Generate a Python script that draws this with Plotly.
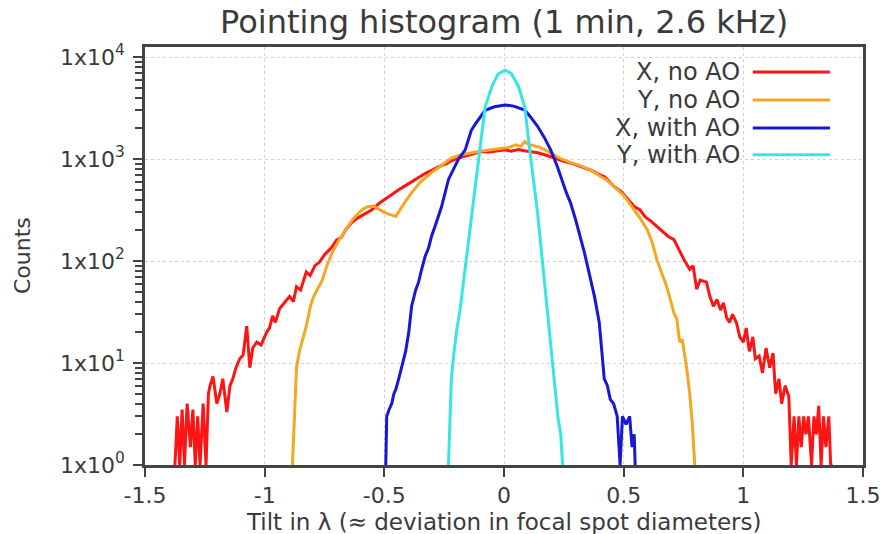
import plotly.graph_objects as go

# ---------------- data ----------------
series_names = ["X, no AO", "Y, no AO", "X, with AO", "Y, with AO"]
series_colors = ["#ff1414", "#f5a623", "#1717d6", "#36e6e6"]

x_noao_x = [-1.375, -1.365, -1.355, -1.345, -1.335, -1.324, -1.31, -1.30, -1.29, -1.28, -1.27, -1.257, -1.245,
            -1.235, -1.228, -1.216, -1.2, -1.187, -1.175, -1.158, -1.145, -1.133, -1.12, -1.104, -1.09, -1.075,
            -1.062, -1.05, -1.033, -1.015, -0.992, -0.98, -0.967, -0.955, -0.938, -0.92, -0.896, -0.88, -0.867,
            -0.85, -0.826, -0.81, -0.79, -0.772, -0.75, -0.735, -0.718, -0.70, -0.68, -0.66, -0.635, -0.61, -0.58,
            -0.552, -0.52, -0.5, -0.469, -0.44, -0.40, -0.37, -0.33, -0.30, -0.274, -0.24, -0.22, -0.19, -0.15,
            -0.12, -0.095, -0.06, -0.03, 0.004, 0.03, 0.06, 0.09, 0.12, 0.141, 0.17, 0.2, 0.224, 0.25, 0.278,
            0.31, 0.34, 0.361, 0.39, 0.42, 0.44, 0.46, 0.49, 0.52, 0.545, 0.568, 0.59, 0.615, 0.639, 0.66, 0.685,
            0.71, 0.73, 0.755, 0.776, 0.79, 0.805, 0.82, 0.846, 0.86, 0.875, 0.89, 0.905, 0.917, 0.93, 0.942,
            0.955, 0.971, 0.985, 1.0, 1.012, 1.025, 1.04, 1.05, 1.066, 1.08, 1.095, 1.11, 1.124, 1.135, 1.149,
            1.16, 1.175, 1.19, 1.2, 1.212, 1.222, 1.232, 1.242, 1.252, 1.262, 1.272, 1.285, 1.295, 1.305, 1.315,
            1.325, 1.335, 1.345, 1.357, 1.365, 1.373]
x_noao_y = [1, 3, 1, 3.5, 1, 4, 1.5, 3.5, 1, 3, 1, 4, 1,
            5, 6, 7.4, 4, 5, 7, 3.3, 6, 7, 9, 11, 12, 23,
            9, 14, 16, 15, 20, 22, 29, 25, 34, 38, 45, 40, 56,
            52, 78, 72, 90, 97, 115, 125, 138, 160, 170, 205, 240, 265, 290,
            318, 370, 400, 447, 500, 570, 630, 720, 780, 837, 900, 960, 1020, 1080,
            1130, 1180, 1170, 1200, 1230, 1190, 1240, 1200, 1180, 1150, 1100, 1040, 980, 950, 915,
            860, 810, 780, 720, 670, 600, 537, 480, 400, 340, 318, 270, 245, 218, 195, 175,
            162, 130, 100, 83, 90, 53, 65, 62, 45, 36, 42, 33, 39, 28, 25,
            30, 25, 18, 16, 22, 13, 18, 11, 11.7, 8, 14, 9, 12.5, 5, 7,
            4, 6, 4.7, 1, 3, 1, 3, 1.5, 3, 2, 3, 1, 3, 2, 3.8,
            1, 3, 1.5, 3, 1, 1]

y_noao_x = [-0.884, -0.876, -0.867, -0.855, -0.84, -0.826, -0.81, -0.80, -0.785, -0.76, -0.74, -0.718, -0.69,
            -0.66, -0.63, -0.593, -0.57, -0.545, -0.523, -0.50, -0.475, -0.452, -0.42, -0.386, -0.35, -0.303,
            -0.26, -0.22, -0.18, -0.14, -0.10, -0.054, -0.02, 0.02, 0.05, 0.07, 0.087, 0.1, 0.12, 0.15, 0.18, 0.21,
            0.24, 0.28, 0.32, 0.36, 0.40, 0.43, 0.46, 0.5, 0.52, 0.544, 0.57, 0.598, 0.62, 0.639, 0.66, 0.68,
            0.70, 0.71, 0.722, 0.734, 0.745, 0.763, 0.776, 0.787, 0.797]
y_noao_y = [1, 3.3, 9, 13, 17, 23, 35, 42, 50, 64, 90, 121, 160,
            204, 260, 318, 340, 345, 320, 300, 285, 274, 360, 468, 590, 735,
            870, 1020, 1100, 1150, 1190, 1230, 1260, 1300, 1380, 1330, 1480, 1400, 1360, 1300, 1200, 1100,
            1000, 920, 860, 780, 690, 620, 537, 440, 380, 318, 260, 204, 150, 103, 75, 56,
            38, 31, 27, 16, 17, 9, 5, 2.5, 1]

x_ao_x = [-0.494, -0.49, -0.48, -0.469, -0.46, -0.452, -0.44, -0.427, -0.411, -0.398, -0.386, -0.369, -0.357,
          -0.344, -0.33, -0.315, -0.303, -0.28, -0.261, -0.232, -0.203, -0.19, -0.162, -0.137, -0.12, -0.079,
          -0.04, 0.004, 0.04, 0.087, 0.11, 0.141, 0.17, 0.195, 0.224, 0.237, 0.26, 0.278, 0.3, 0.336, 0.36,
          0.378, 0.398, 0.41, 0.419, 0.432, 0.444, 0.458, 0.473, 0.485, 0.495, 0.51, 0.525, 0.535, 0.544, 0.548]
x_ao_y = [1, 3, 3.5, 4, 5, 5.5, 7, 9, 13, 20, 36, 52, 62,
          83, 110, 135, 174, 250, 340, 630, 850, 1000, 1230, 1900, 2200, 3000,
          3250, 3390, 3300, 3020, 2600, 2080, 1600, 1230, 830, 670, 470, 372, 250, 121, 70,
          45, 25, 12, 7, 6, 4.4, 4, 3, 1, 3, 2.5, 3, 1.5, 2, 1]

y_ao_x = [-0.232, -0.228, -0.22, -0.21, -0.199, -0.183, -0.17, -0.158, -0.14, -0.125, -0.116, -0.108, -0.079,
          -0.05, -0.025, 0.004, 0.03, 0.06, 0.087, 0.112, 0.125, 0.14, 0.16, 0.18, 0.2, 0.215, 0.225, 0.237, 0.245]
y_ao_y = [1, 2, 7, 12, 20, 34, 60, 102, 230, 460, 690, 1000, 3230,
          5200, 6800, 7440, 6900, 5200, 3230, 1000, 600, 300, 102, 35, 11, 5, 3, 2, 1]

y_tickvals = [1, 10, 100, 1000, 10000]
y_ticktext = ["1x10<sup>0</sup>", "1x10<sup>1</sup>", "1x10<sup>2</sup>", "1x10<sup>3</sup>", "1x10<sup>4</sup>"]
x_tickvals = [-1.5, -1, -0.5, 0, 0.5, 1, 1.5]
x_ticktext = ["-1.5", "-1", "-0.5", "0", "0.5", "1", "1.5"]
y_minor = [m * d for d in (1, 10, 100, 1000) for m in range(2, 10)]

title_text = "Pointing histogram (1 min, 2.6 kHz)"
x_title = "Tilt in λ (≈ deviation in focal spot diameters)"
y_title = "Counts"

# ---------------- figure ----------------
FONT = "DejaVu Sans, Open Sans, sans-serif"
TXT = "#3a3a3a"
xs = [x_noao_x, y_noao_x, x_ao_x, y_ao_x]
ys = [x_noao_y, y_noao_y, x_ao_y, y_ao_y]

fig = go.Figure()
for name, col, xv, yv in zip(series_names, series_colors, xs, ys):
    fig.add_trace(go.Scatter(x=xv, y=yv, mode="lines", name=name,
                             line=dict(color=col, width=3), showlegend=False))

axis_common = dict(showline=True, linecolor="#444444", linewidth=2.5, mirror=True,
                   ticks="outside", tickcolor="#444444", tickwidth=2, ticklen=9,
                   tickfont=dict(family=FONT, size=22, color=TXT),
                   showgrid=True, gridcolor="#d0d0d0", griddash="dot", gridwidth=1,
                   zeroline=False)

fig.update_xaxes(range=[-1.5, 1.5], tickmode="array", tickvals=x_tickvals, ticktext=x_ticktext,
                 ticklabelstandoff=0, **axis_common)
fig.update_yaxes(type="log", range=[0, 4.098], tickmode="array", tickvals=y_tickvals, ticktext=y_ticktext,
                 ticklabelstandoff=4,
                 minor=dict(tickmode="array", tickvals=y_minor, ticks="outside", ticklen=7,
                            tickcolor="#444444", tickwidth=2, showgrid=False),
                 **axis_common)

annotations = [
    dict(text=title_text, xref="paper", yref="paper", x=0.5, y=1.0, yshift=25,
         xanchor="center", yanchor="middle", showarrow=False,
         font=dict(family=FONT, size=32, color=TXT)),
    dict(text=x_title, xref="paper", yref="paper", x=0.5, y=0, yshift=-57,
         xanchor="center", yanchor="middle", showarrow=False,
         font=dict(family=FONT, size=23, color=TXT)),
    dict(text=y_title, xref="paper", yref="paper", x=0, xshift=-123, y=0.5,
         xanchor="center", yanchor="middle", textangle=-90, showarrow=False,
         font=dict(family=FONT, size=22, color=TXT)),
]
shapes = []
leg_rows = [0.940, 0.873, 0.806, 0.742]
for name, col, ry in zip(series_names, series_colors, leg_rows):
    annotations.append(dict(text=name, xref="paper", yref="paper", x=0.832, y=ry,
                            xanchor="right", yanchor="middle", showarrow=False,
                            font=dict(family=FONT, size=24, color=TXT)))
    shapes.append(dict(type="line", xref="paper", yref="paper", x0=0.8465, x1=0.954, y0=ry, y1=ry,
                       line=dict(color=col, width=3)))

fig.update_layout(width=893, height=534, margin=dict(l=145, r=25, t=47, b=69),
                  paper_bgcolor="white", plot_bgcolor="white",
                  annotations=annotations, shapes=shapes, showlegend=False)

fig.write_html("out.html", config={"displayModeBar": False},
               post_script="document.body.style.margin='0';")
